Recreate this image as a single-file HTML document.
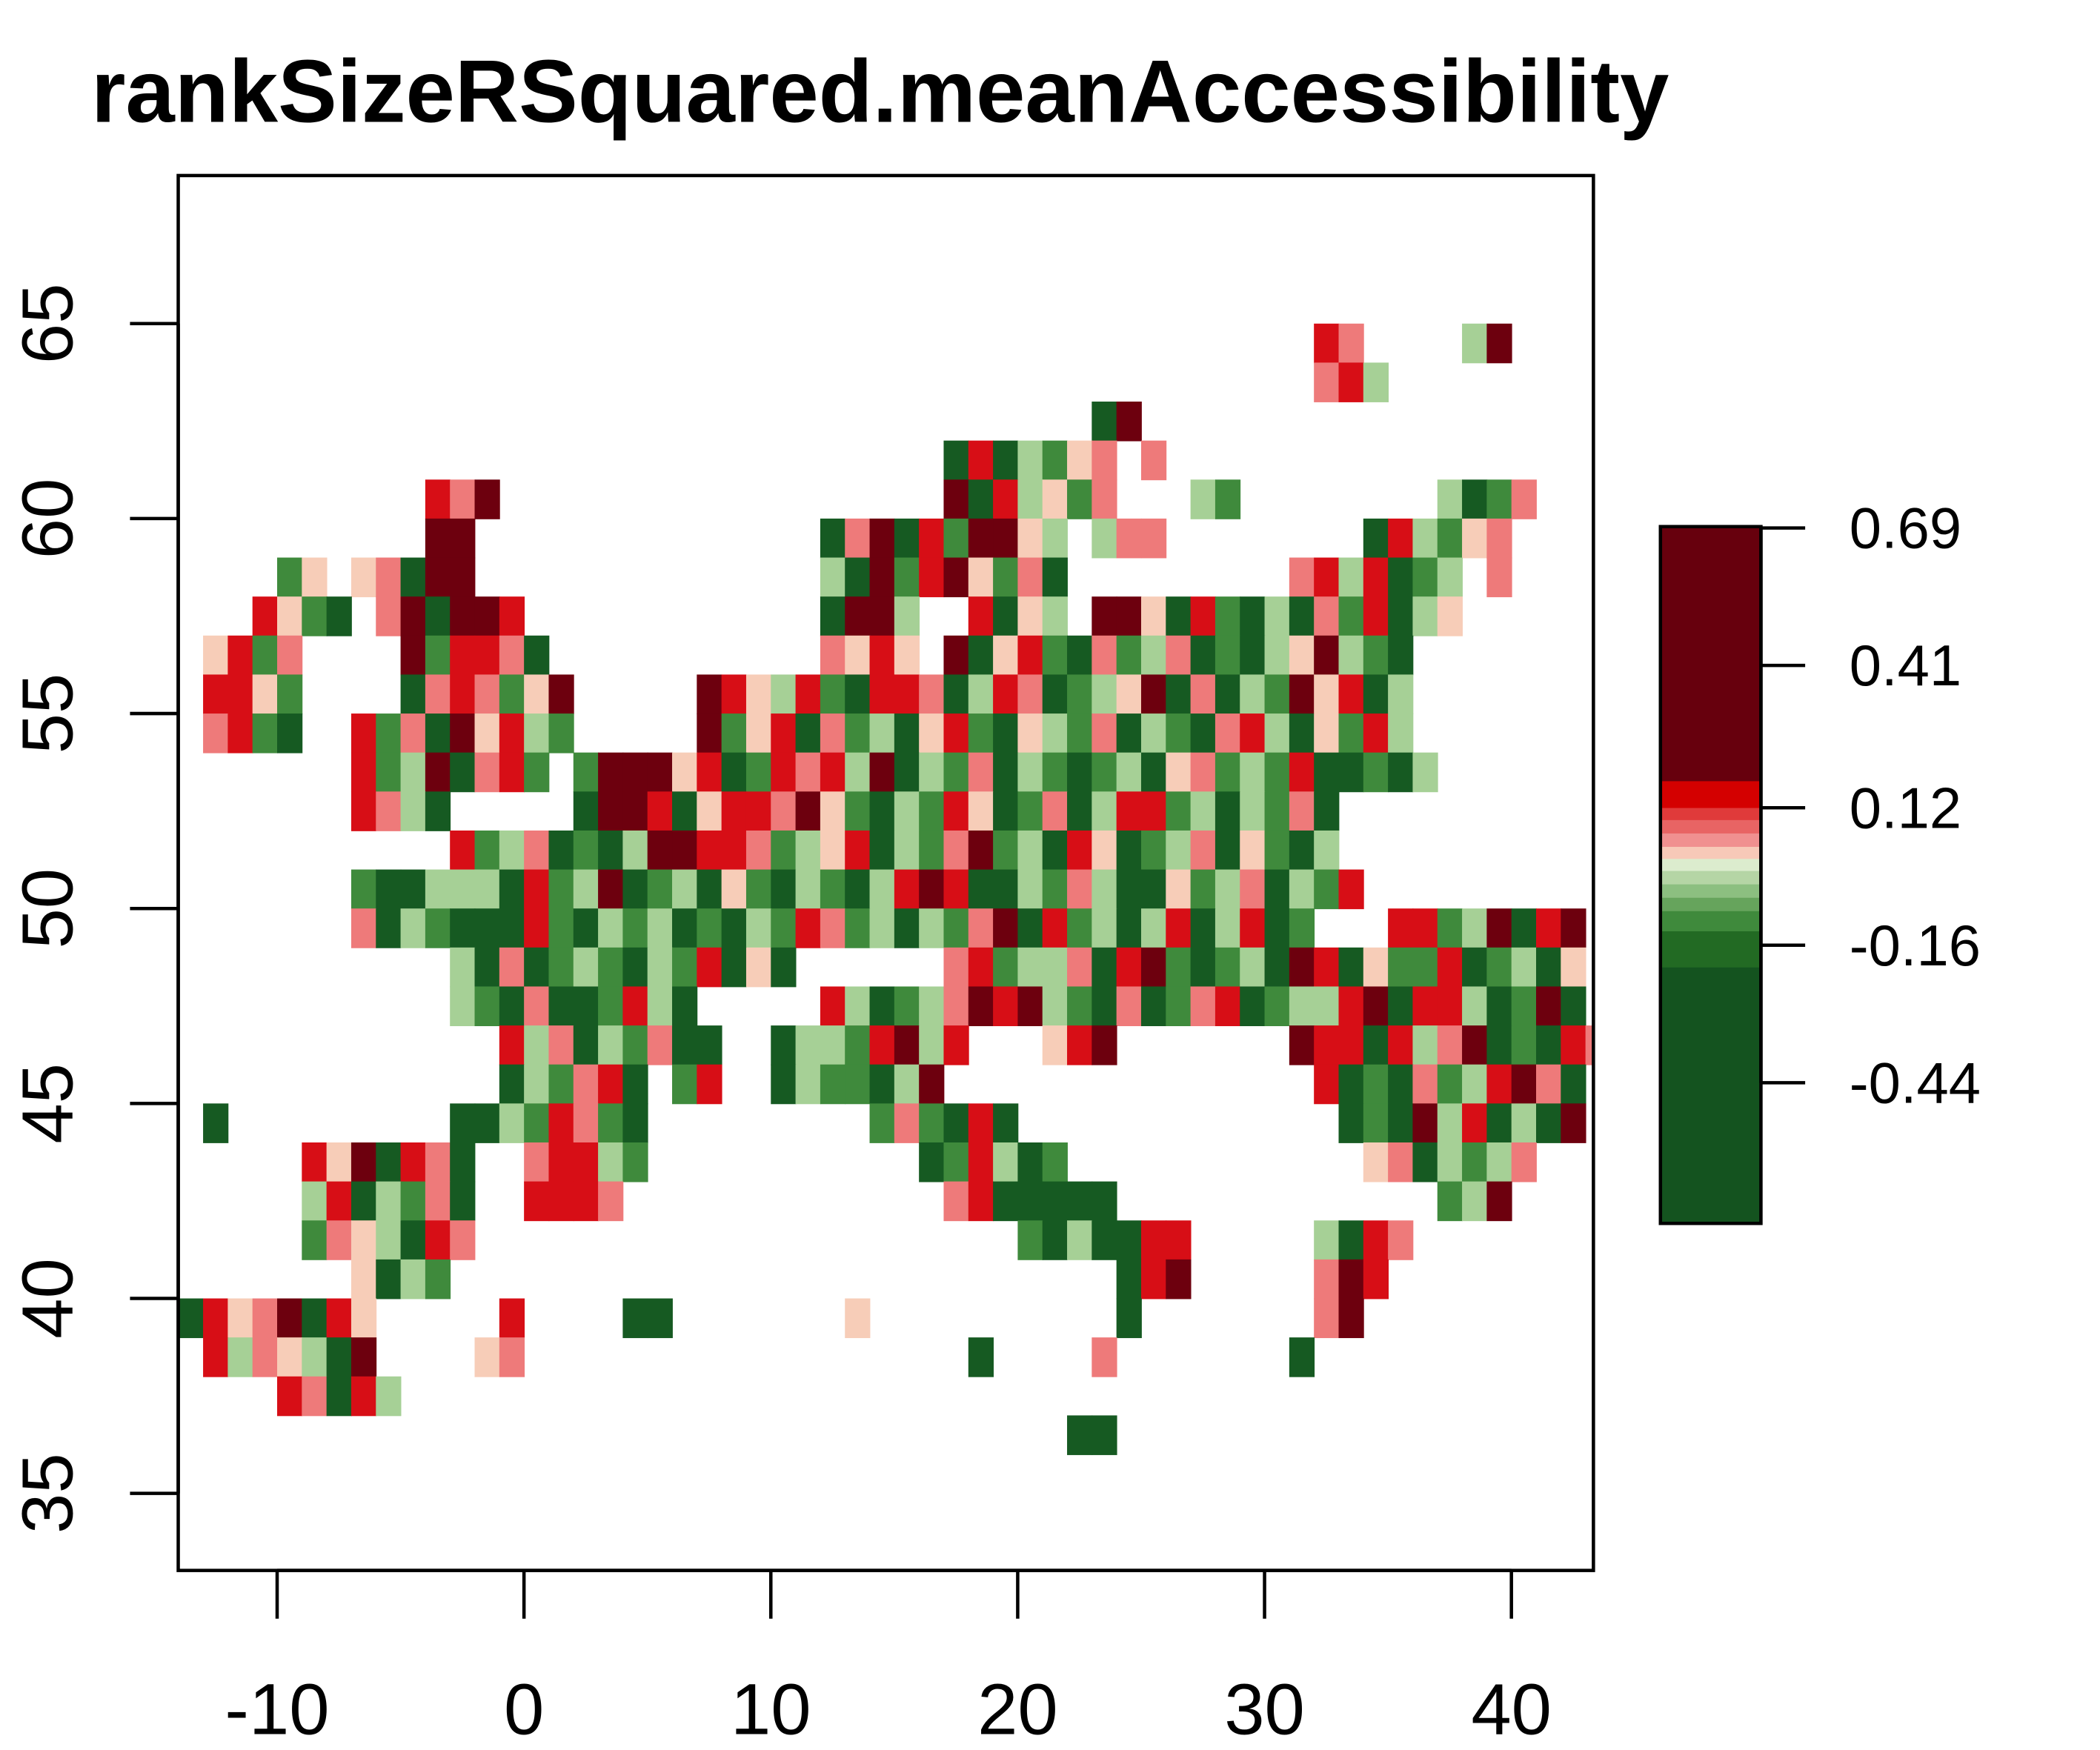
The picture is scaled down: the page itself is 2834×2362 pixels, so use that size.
<!DOCTYPE html>
<html><head><meta charset="utf-8"><style>
html,body{margin:0;padding:0;background:#fff}
svg{display:block}
text{font-family:"Liberation Sans",Arial,sans-serif}
</style></head><body>
<svg id="chart" width="2834" height="2362" viewBox="0 0 1567 1306" preserveAspectRatio="none" xmlns="http://www.w3.org/2000/svg">
<rect x="0" y="0" width="1567" height="1306" fill="#fff"/>
<text x="68" y="91" font-size="66" font-weight="bold">rankSizeRSquared.meanAccessibility</text>
<g id="cells"></g>
<rect x="133" y="131" width="1056" height="1041" fill="none" stroke="#000" stroke-width="2.5"/>
<g id="xaxis"></g>
<g id="yaxis"></g>
<g id="legend"></g>
</svg>
<script>
const xTicks=[-10,0,10,20,30,40];
const yTicks=[35,40,45,50,55,60,65];
const legendTicks=[0.69,0.41,0.12,-0.16,-0.44];
const levelColors=["#165a22","#3f8a3c","#a6d096","#f7cdb8","#ee7a7a","#d70e16","#6d000e"];
// rows: latitude -> segments [startLon, per-degree level codes]
const rowLats=[64,63,62,61,60,59,58,57,56,55,54,53,52,51,50,49,48,47,46,45,44,43,42,41,40,39,38,37,36];
const rowSegs=[
 [[32,"54"],[38,"2"],[39,"6"]],
 [[32,"452"]],
 [[23,"0"],[24,"6"]],
 [[17,"0502134"],[25,"4"]],
 [[-4,"546"],[17,"6052314"],[27,"21"],[37,"2014"]],
 [[-4,"66"],[12,"0460516632"],[23,"244"],[34,"05213"],[39,"4"]],
 [[-10,"13"],[-7,"34066"],[12,"2061563140"],[31,"4525012"],[39,"4"]],
 [[-11,"5310"],[-6,"460665"],[12,"0662"],[18,"5032"],[23,"663051020415023"]],
 [[-13,"3514"],[-5,"615540"],[12,"4353"],[17,"6035104124010236210"]],
 [[-13,"5531"],[-5,"0454136"],[7,"65325105540254012360402163502"]],
 [[-13,"4510"],[-7,"514063521"],[7,"61350412035103214021045203152"]],
 [[-7,"51260451"],[2,"16663501545260214021012034121500102"]],
 [[-7,"5420"],[2,"0665035546310215301402551202140"]],
 [[-3,"512401026655412350214612053012403102"]],
 [[-7,"10022205126012031021025650021420031240215"]],
 [[-7,"402100051021201021541202146051202502501"],[35,"55126056"]],
 [[-3,"20401210215030"],[17,"45122405610120650311501203"]],
 [[-3,"2104001520"],[12,"5201246"],[19,"562104014501225605520160"]],
 [[-1,"524021400"],[10,"02215625"],[21,"356"],[31,"6550524601054"]],
 [[-1,"021450"],[6,"15"],[10,"0211026"],[32,"50104125640"]],
 [[-13,"0"],[-3,"00215410"],[14,"141050"],[33,"0106250206"]],
 [[-9,"5360540"],[0,"45521"],[16,"015201"],[34,"3402124"]],
 [[-9,"2502140"],[0,"5554"],[17,"4500000"],[37,"126"]],
 [[-9,"1432054"],[20,"1020055"],[32,"2054"]],
 [[-7,"3021"],[24,"056"],[32,"465"]],
 [[-14,"0"],[-13,"5346053"],[-1,"5"],[4,"00"],[13,"3"],[24,"0"],[32,"46"]],
 [[-13,"5243206"],[-2,"34"],[18,"0"],[23,"4"],[31,"0"]],
 [[-10,"54052"]],
 [[22,"00"]]
];
const NS="http://www.w3.org/2000/svg";
function xs(lon){return 391+lon*18.42;}
function ys(lat){return 678-(lat-50)*29.1;}
const cg=document.getElementById('cells');
rowLats.forEach((lat,i)=>{
  rowSegs[i].forEach(seg=>{
    const s=seg[1];
    for(let k=0;k<s.length;k++){
      const lon=seg[0]+k;
      const x0=Math.max(133,xs(lon)),x1=Math.min(1189,xs(lon+1));
      const r=document.createElementNS(NS,'rect');
      r.setAttribute('x',x0);r.setAttribute('y',ys(lat+1));
      r.setAttribute('width',x1-x0+0.5);r.setAttribute('height',ys(lat)-ys(lat+1)+0.5);
      r.setAttribute('fill',levelColors[+s[k]]);
      
      
      cg.appendChild(r);
    }
  });
});
function mk(tag,attrs,parent,txt){const e=document.createElementNS(NS,tag);for(const k in attrs)e.setAttribute(k,attrs[k]);if(txt!==undefined)e.textContent=txt;parent.appendChild(e);return e;}
const xa=document.getElementById('xaxis');
mk('line',{x1:xs(-10),x2:xs(40),y1:1172,y2:1172,stroke:'#000','stroke-width':2.5},xa);
xTicks.forEach(v=>{
  const l=mk('line',{x1:xs(v),x2:xs(v),y1:1172,y2:1208,stroke:'#000','stroke-width':2.5},xa);
  
  
  const t=mk('text',{x:xs(v),y:1294,'font-size':54,'text-anchor':'middle'},xa,String(v));
  
  
});
const ya=document.getElementById('yaxis');
mk('line',{x1:133,x2:133,y1:ys(35),y2:ys(65),stroke:'#000','stroke-width':2.5},ya);
yTicks.forEach(v=>{
  const l=mk('line',{x1:97,x2:133,y1:ys(v),y2:ys(v),stroke:'#000','stroke-width':2.5},ya);
  
  
  const t=mk('text',{x:0,y:0,'font-size':54,'text-anchor':'middle',transform:'translate(54,'+ys(v)+') rotate(-90)'},ya,String(v));
  
  
});
// legend
const lg=document.getElementById('legend');
const bands=[[393,583,"#67000d"],[583,603,"#d40000"],[603,612,"#e03a3a"],[612,622,"#e86464"],[622,632,"#f09090"],[632,641,"#f7c9b8"],[641,650,"#dcecce"],[650,660,"#b5d5a5"],[660,670,"#8cbf80"],[670,680,"#66a45c"],[680,695,"#3f8a3c"],[695,722,"#226a23"],[722,913,"#14531f"]];
bands.forEach(b=>{const r=mk('rect',{x:1239,y:b[0],width:75,height:b[1]-b[0]+0.5,fill:b[2]},lg);
  
  });
mk('rect',{x:1239,y:393,width:75,height:520,fill:'none',stroke:'#000','stroke-width':2.5},lg);
function ly(v){return 394+(0.69-v)/(0.69+0.44)*(808-394);}
mk('line',{x1:1314,x2:1314,y1:ly(0.69),y2:ly(-0.44),stroke:'#000','stroke-width':2.5},lg);
legendTicks.forEach(v=>{
  mk('line',{x1:1314,x2:1347,y1:ly(v),y2:ly(v),stroke:'#000','stroke-width':2.5},lg);
  const t=mk('text',{x:1380,y:ly(v)+15,'font-size':43},lg,v.toFixed(2));
  
  
});
</script>
</body></html>
